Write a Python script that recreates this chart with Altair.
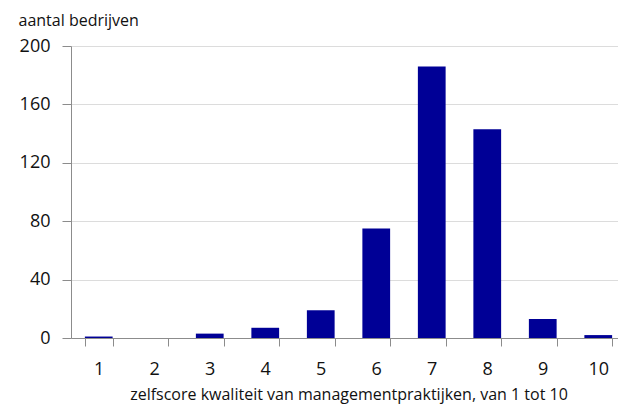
import altair as alt
import pandas as pd

scores = ["1", "2", "3", "4", "5", "6", "7", "8", "9", "10"]
counts = [1, 0, 3, 7, 19, 75, 186, 143, 13, 2]

df = pd.DataFrame({"score": scores, "count": counts})

FONT = "Open Sans"

chart = alt.Chart(df).mark_bar(color="#000096").encode(
    x=alt.X(
        "score:N",
        sort=scores,
        scale=alt.Scale(paddingInner=0.5, paddingOuter=0.25),
        axis=alt.Axis(
            title="zelfscore kwaliteit van managementpraktijken, van 1 tot 10",
            labelAngle=0,
            tickBand="extent",
            tickSize=8,
            labelPadding=14,
            labelFontSize=18,
            titleFontSize=16,
            titleFontWeight="normal",
            titlePadding=8,
            domainColor="#8c8c8c",
            tickColor="#8c8c8c",
            labelColor="#111111",
            titleColor="#111111",
            labelFont=FONT,
            titleFont=FONT,
        ),
    ),
    y=alt.Y(
        "count:Q",
        scale=alt.Scale(domain=[0, 200]),
        axis=alt.Axis(
            values=[0, 40, 80, 120, 160, 200],
            title="aantal bedrijven",
            titleAngle=0,
            titleAlign="left",
            titleBaseline="alphabetic",
            titleX=-53,
            titleY=-21,
            titleFontSize=16,
            titleFontWeight="normal",
            titleFont=FONT,
            titleColor="#111111",
            labelFontSize=18,
            labelFont=FONT,
            labelColor="#111111",
            labelPadding=12,
            tickSize=9,
            domainColor="#8c8c8c",
            tickColor="#8c8c8c",
            gridColor="#dcdcdc",
        ),
    ),
).properties(
    width=555,
    height=292,
    autosize=alt.AutoSizeParams(type="none"),
    padding={"left": 63, "top": 38, "right": -8, "bottom": 66},
).configure_view(stroke=None)

chart.save("out.html", embed_options={"renderer": "svg", "actions": False})
